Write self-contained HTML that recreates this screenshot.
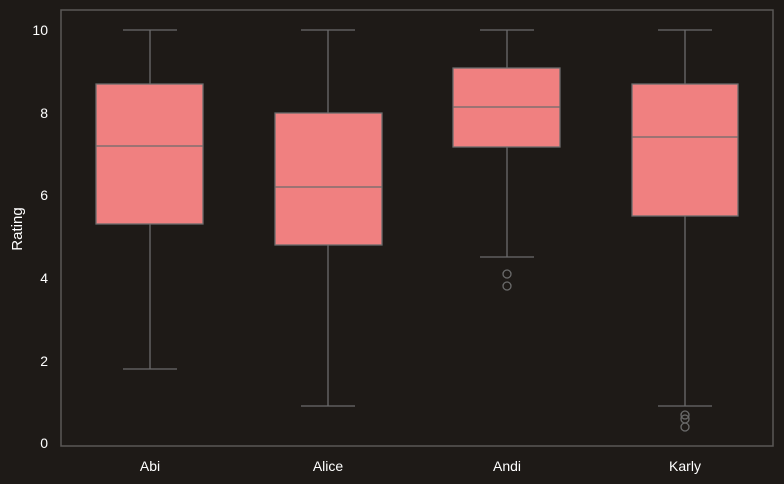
<!DOCTYPE html>
<html><head><style>
html,body{margin:0;padding:0;background:#1e1a17;}
svg{display:block;font-family:"Liberation Sans",sans-serif;}
</style></head><body>
<svg width="784" height="484" viewBox="0 0 784 484">
<rect width="784" height="484" fill="#1e1a17"/>
<rect x="61" y="10" width="712" height="436" fill="none" stroke="#5a5857" stroke-width="1.5"/>
<g fill="#ffffff" font-size="14" text-anchor="end">
<text x="48" y="448">0</text><text x="48" y="366">2</text><text x="48" y="283">4</text>
<text x="48" y="200">6</text><text x="48" y="118">8</text><text x="48" y="35">10</text>
</g>
<g fill="#ffffff" font-size="14" text-anchor="middle">
<text x="150" y="471">Abi</text><text x="328" y="471">Alice</text><text x="507" y="471">Andi</text><text x="685" y="471">Karly</text>
</g>
<text x="22" y="229" fill="#ffffff" font-size="15" text-anchor="middle" transform="rotate(-90 22 229)">Rating</text>
<g stroke="#6b6b6b" stroke-width="1.3" fill="none">
<!-- Abi -->
<line x1="150" y1="30" x2="150" y2="84"/><line x1="150" y1="224" x2="150" y2="369"/>
<line x1="123" y1="30" x2="177" y2="30"/><line x1="123" y1="369" x2="177" y2="369"/>
<rect x="96" y="84" width="107" height="140" fill="#f08080"/><line x1="96" y1="146" x2="203" y2="146"/>
<!-- Alice -->
<line x1="328" y1="30" x2="328" y2="113"/><line x1="328" y1="245" x2="328" y2="406"/>
<line x1="301" y1="30" x2="355" y2="30"/><line x1="301" y1="406" x2="355" y2="406"/>
<rect x="275" y="113" width="107" height="132" fill="#f08080"/><line x1="275" y1="187" x2="382" y2="187"/>
<!-- Andi -->
<line x1="507" y1="30" x2="507" y2="68"/><line x1="507" y1="147" x2="507" y2="257"/>
<line x1="480" y1="30" x2="534" y2="30"/><line x1="480" y1="257" x2="534" y2="257"/>
<rect x="453" y="68" width="107" height="79" fill="#f08080"/><line x1="453" y1="107" x2="560" y2="107"/>
<circle cx="507" cy="274" r="4"/><circle cx="507" cy="286" r="4"/>
<!-- Karly -->
<line x1="685" y1="30" x2="685" y2="84"/><line x1="685" y1="216" x2="685" y2="406"/>
<line x1="658" y1="30" x2="712" y2="30"/><line x1="658" y1="406" x2="712" y2="406"/>
<rect x="632" y="84" width="106" height="132" fill="#f08080"/><line x1="632" y1="137" x2="738" y2="137"/>
<circle cx="685" cy="415" r="4"/><circle cx="685" cy="419" r="4"/><circle cx="685" cy="427" r="4"/>
</g>
</svg>
</body></html>
